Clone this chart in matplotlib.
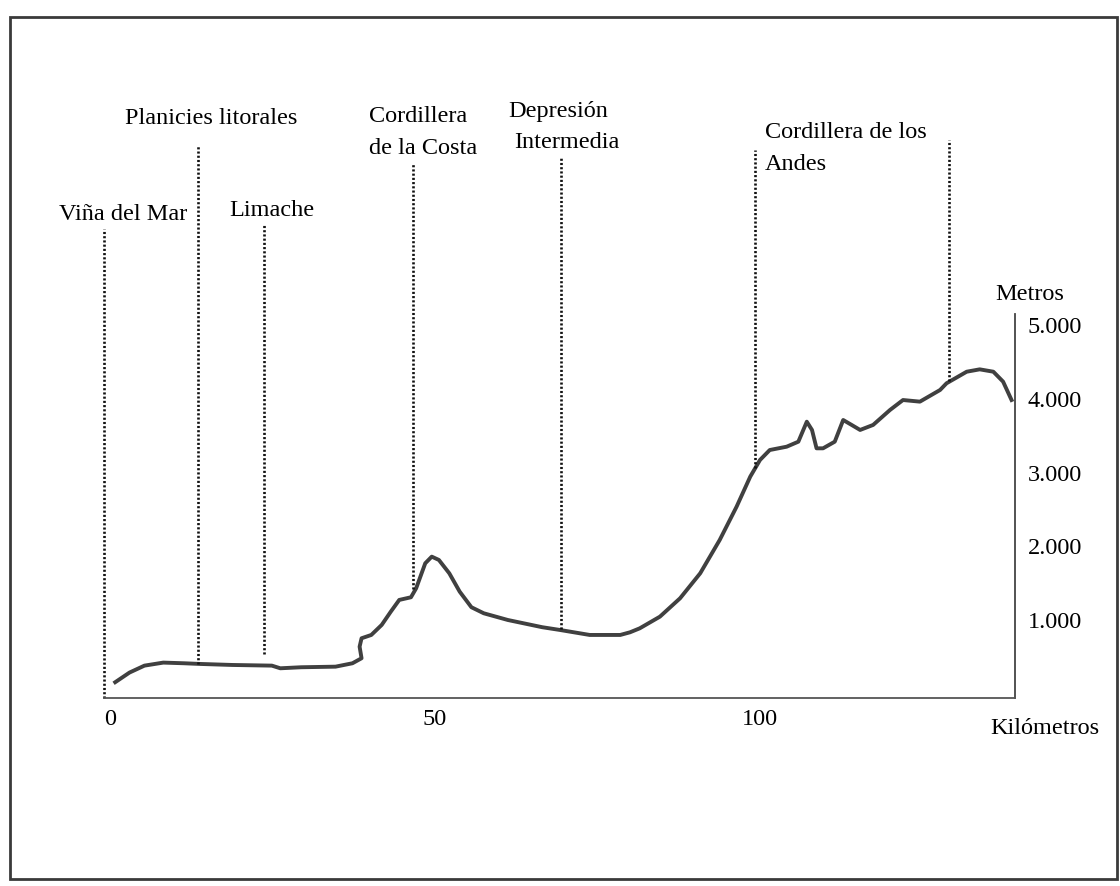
import matplotlib.pyplot as plt
from matplotlib.patches import Rectangle

# perfil topografico Viña del Mar - Cordillera de los Andes (km, metros)
km = [0.8, 3.0, 5.3, 8.2, 11.4, 13.8, 18.8, 24.9, 26.2, 29.4, 34.7, 37.3, 38.7, 38.4,
      38.7, 40.2, 41.8, 43.2, 44.5, 46.3, 47.1, 48.5, 49.5, 50.6, 52.2, 53.8, 55.6,
      57.5, 61.2, 66.5, 69.2, 73.8, 78.5, 80.0, 81.5, 84.6, 87.7, 90.8, 93.8, 96.4,
      98.5, 100.0, 101.5, 104.1, 105.9, 107.2, 108.0, 108.7, 109.7, 111.5, 112.8,
      114.1, 115.4, 117.4, 120.0, 122.0, 124.6, 127.7, 128.7, 131.8, 133.8, 135.9,
      137.4, 138.7]
altura = [159, 290, 384, 425, 416, 407, 393, 384, 348, 362, 370, 416, 484, 641,
          755, 800, 936, 1116, 1275, 1311, 1433, 1772, 1862, 1817, 1636, 1387, 1176,
          1094, 1003, 905, 868, 800, 800, 836, 890, 1048, 1297, 1636, 2088, 2540,
          2947, 3173, 3308, 3353, 3421, 3692, 3580, 3331, 3331, 3421, 3715,
          3648, 3580, 3648, 3851, 3986, 3964, 4122, 4213, 4370, 4402, 4370,
          4235, 3986]

# lineas de referencia (km) y altura donde terminan abajo / arriba
lugares_km = [-0.9, 13.5, 23.7, 46.6, 69.4, 99.2, 129.1]
lugares_fin = [-55, 407, 542, 1420, 880, 3060, 4240]
lugares_ini = [6305, 7431, 6359, 7186, 7281, 7376, 7512]

yticks = [1000, 2000, 3000, 4000, 5000]
ytick_labels = ['1.000', '2.000', '3.000', '4.000', '5.000']
xticks = [0, 50, 100]

W, H = 1120, 886
plt.rcParams['font.family'] = ['Liberation Serif', 'DejaVu Serif']
fs = 17.5


def px(x, y):
    return x / W, 1 - y / H


fig = plt.figure(figsize=(W / 100, H / 100), dpi=100)
ax = fig.add_axes([104.15 / W, 188 / H, 911.3 / W, 384.4 / H])
ax.set_xlim(-0.9, 139.3)
ax.set_ylim(-55, 5158)

ax.plot(km, altura, color='#404040', lw=2.8, solid_joinstyle='round')

for x, y0, y1 in zip(lugares_km, lugares_fin, lugares_ini):
    ax.plot([x, x], [y0, y1], color='#111111', lw=1.9, linestyle=(0, (0.8, 0.8)),
            clip_on=False)

ax.spines['top'].set_visible(False)
ax.spines['left'].set_visible(False)
ax.spines['right'].set_color('#444444')
ax.spines['bottom'].set_color('#555555')
ax.spines['right'].set_linewidth(1.3)
ax.spines['bottom'].set_linewidth(1.3)
ax.yaxis.tick_right()
ax.set_yticks(yticks)
ax.set_yticklabels(ytick_labels)
ax.set_xticks(xticks)
ax.tick_params(axis='y', length=0, pad=9, labelsize=fs)
ax.tick_params(axis='x', length=0, pad=8, labelsize=fs)

# rotulos
fig.text(*px(123, 214), 'Viña del Mar', fontsize=fs, ha='center', va='center')
fig.text(*px(211, 119), 'Planicies litorales', fontsize=fs, ha='center', va='center')
fig.text(*px(272, 210), 'Limache', fontsize=fs, ha='center', va='center')
fig.text(*px(369, 116), 'Cordillera', fontsize=fs, ha='left', va='center')
fig.text(*px(369, 148), 'de la Costa', fontsize=fs, ha='left', va='center')
fig.text(*px(508, 112), 'Depresión', fontsize=fs, ha='left', va='center')
fig.text(*px(514, 143), 'Intermedia', fontsize=fs, ha='left', va='center')
fig.text(*px(765, 133), 'Cordillera de los', fontsize=fs, ha='left', va='center')
fig.text(*px(765, 164), 'Andes', fontsize=fs, ha='left', va='center')
fig.text(*px(1030, 295), 'Metros', fontsize=fs, ha='center', va='center')
fig.text(*px(1045, 728), 'Kilómetros', fontsize=fs, ha='center', va='center')

# marco
fig.patches.append(Rectangle(px(10, 879), 1107 / W, 862 / H, transform=fig.transFigure,
                             fill=False, edgecolor='#3a3a3a', lw=2))

fig.savefig('out.png', dpi=100)
